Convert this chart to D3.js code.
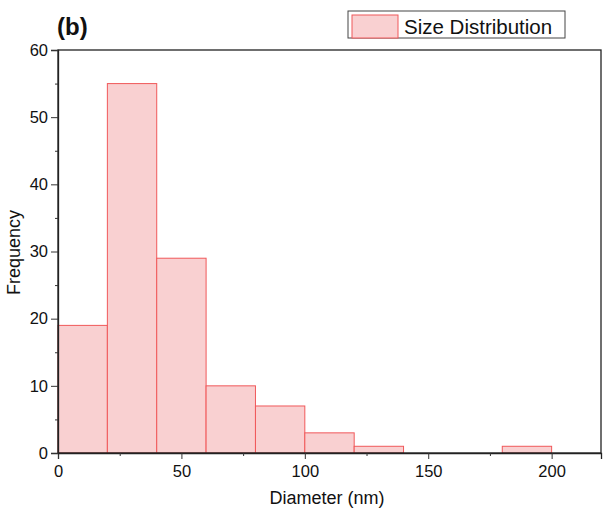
<!DOCTYPE html>
<html lang="en">
<head>
  <meta charset="UTF-8">
  <title>Size Distribution</title>
  <script src="https://d3js.org/d3.v7.min.js"></script>
  <style>
      body { margin: 0; padding: 0; background: #fff; font-family: Arial, 'Liberation Sans', sans-serif; }
      svg { display: block; }
  </style>
</head>
<body>
  <svg width="603" height="508"></svg>
  <script>
      // Histogram bins (nm) and counts
      const binStarts = [0, 20, 40, 60, 80, 100, 120, 140, 160, 180];
      const binWidth = 20;
      const counts = [19, 55, 29, 10, 7, 3, 1, 0, 0, 1];
      const xTicks = [0, 50, 100, 150, 200];
      const yTicks = [0, 10, 20, 30, 40, 50, 60];

      const svg = d3.select("svg");
      const margin = { left: 58, right: 2, top: 50, bottom: 55 };
      const width = 603 - margin.left - margin.right;
      const height = 508 - margin.top - margin.bottom;

      const x = d3.scaleLinear().domain([0, 220]).range([0, width]);
      const y = d3.scaleLinear().domain([0, 60]).range([height, 0]);

      const g = svg.append("g").attr("transform", `translate(${margin.left},${margin.top})`);

      const bins = binStarts.map((s, i) => ({ x0: s, x1: s + binWidth, n: counts[i] }));

      g.selectAll("rect.bar")
          .data(bins.filter(d => d.n > 0))
          .enter().append("rect")
          .attr("class", "bar")
          .attr("x", d => x(d.x0))
          .attr("y", d => y(d.n))
          .attr("width", d => x(d.x1) - x(d.x0))
          .attr("height", d => y(0) - y(d.n))
          .attr("fill", "#f9d0d1")
          .attr("stroke", "#f0585a")
          .attr("stroke-width", 1);

      // frame
      g.append("rect")
          .attr("width", width).attr("height", height)
          .attr("fill", "none").attr("stroke", "#222").attr("stroke-width", 1.3);

      // x axis
      g.append("g").attr("transform", `translate(0,${height})`)
          .call(d3.axisBottom(x).tickValues(xTicks).tickSize(6).tickPadding(6));
      g.append("g").attr("transform", `translate(0,${height})`)
          .call(d3.axisBottom(x).tickValues([25, 75, 125, 175]).tickSize(3).tickFormat(""))
          .call(a => a.select(".domain").remove());

      // y axis
      g.append("g")
          .call(d3.axisLeft(y).tickValues(yTicks).tickSize(7).tickPadding(3));
      g.append("g")
          .call(d3.axisLeft(y).tickValues([5, 15, 25, 35, 45, 55]).tickSize(3).tickFormat(""))
          .call(a => a.select(".domain").remove());

      svg.selectAll(".tick line").attr("stroke", "#333");
      svg.selectAll(".domain").attr("stroke", "#222").attr("stroke-width", 1.3);
      svg.selectAll(".tick text")
          .attr("font-family", "Arial, 'Liberation Sans', sans-serif")
          .attr("font-size", 16.5).attr("fill", "#111");

      // axis titles
      svg.append("text")
          .attr("x", margin.left + x(109)).attr("y", 504)
          .attr("text-anchor", "middle")
          .attr("font-size", 18).attr("fill", "#111")
          .text("Diameter (nm)");

      svg.append("text")
          .attr("transform", `translate(20,${margin.top + height / 2 + 1}) rotate(-90)`)
          .attr("text-anchor", "middle")
          .attr("font-size", 18).attr("fill", "#111")
          .text("Frequency");

      // panel label
      svg.append("text")
          .attr("x", 57).attr("y", 35)
          .attr("font-size", 24).attr("font-weight", "bold").attr("fill", "#111")
          .text("(b)");

      // legend
      const legend = svg.append("g").attr("transform", "translate(348,11)");
      legend.append("rect")
          .attr("width", 217).attr("height", 27)
          .attr("fill", "#fff").attr("stroke", "#444").attr("stroke-width", 1);
      legend.append("rect")
          .attr("x", 4).attr("y", 4).attr("width", 46).attr("height", 23)
          .attr("fill", "#f9d0d1").attr("stroke", "#f0585a");
      legend.append("text")
          .attr("x", 56).attr("y", 23)
          .attr("font-size", 20.5).attr("fill", "#111")
          .text("Size Distribution");
  </script>
</body>
</html>
